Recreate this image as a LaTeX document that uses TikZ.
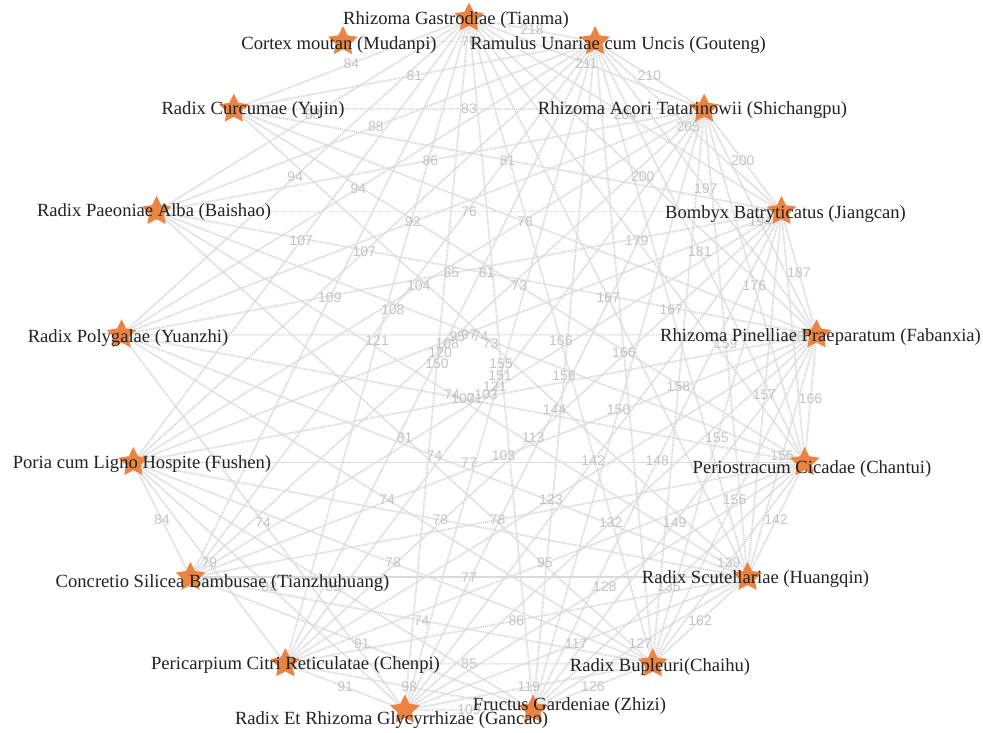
\documentclass[tikz,border=0pt]{standalone}
\usepackage{fontspec}
\setmainfont{Liberation Serif}
\newfontfamily\lblfont{Liberation Sans}
\usetikzlibrary{shapes.geometric}
\definecolor{edgecol}{RGB}{218,218,218}
\definecolor{lblcol}{RGB}{196,196,196}
\definecolor{starcol}{RGB}{235,132,66}
\definecolor{txtcol}{RGB}{34,34,34}
\def\edgelist{0/1/218,1/2/210,2/3/200,3/4/187,4/5/166,5/6/142,6/7/162,7/8/126,8/9/109,9/10/91,11/12/84,
0/2/211,1/3/205,2/4/194,3/5/178,4/6/156,5/7/139,6/8/127,7/9/119,8/10/98,10/12/79,16/1/76,15/0/84,
0/3/204,1/4/197,2/5/176,3/6/157,4/7/156,5/8/135,6/9/117,7/10/85,8/11/91,9/12/82,14/0/88,15/1/81,
0/4/200,1/5/181,2/6/159,3/7/155,4/8/149,5/9/128,6/10/86,7/11/74,8/12/85,9/13/74,13/0/94,14/1/88,15/2/83,
0/5/179,1/6/167,2/7/158,3/8/148,4/9/132,5/10/95,6/11/77,7/12/78,12/0/107,13/1/94,14/2/86,15/3/81,
0/6/167,1/7/166,2/8/150,3/9/142,4/10/123,5/11/78,6/12/78,7/13/74,11/0/109,12/1/107,13/2/92,14/3/76,15/4/78,
0/7/166,1/8/156,2/9/144,3/10/113,4/11/103,5/12/77,6/13/74,7/14/81,10/0/121,11/1/108,12/2/104,13/3/85,14/4/81,15/5/73,
0/8/155,1/9/151,2/10/121,3/11/103,4/12/71,5/13/100,6/14/74,9/0/150,10/1/120,11/2/108,12/3/95,13/4/97,14/5/74,15/6/73}
\begin{document}
\begin{tikzpicture}[x=1pt,y=-1pt,
  link/.style={draw=edgecol,line width=1.8pt,dash pattern=on 1.2pt off 0.8pt},
  wlabel/.style={font=\lblfont\fontsize{14}{14}\selectfont,text=lblcol,inner sep=0pt},
  herb/.style={star,star points=5,star point ratio=2.0,minimum size=31pt,inner sep=0pt,fill=starcol,draw=none},
  herbtext/.style={font=\fontsize{18.6}{20}\selectfont,text=txtcol,inner sep=0pt,anchor=center}]
\fill[white] (0,0) rectangle (983,733);
\useasboundingbox (0,0) rectangle (983,733);
\foreach \i in {0,...,16}{
  \coordinate (n\i) at ({469+349*cos(90-21.17647*\i)},{367-349*sin(90-21.17647*\i)});
}
\foreach \a/\b/\w in \edgelist {\draw[link] (n\a) -- (n\b);}
\foreach \a/\b/\w in \edgelist {\path (n\a) -- node[wlabel]{\w} (n\b);}
\foreach \i in {0,...,16}{\node[herb] (s\i) at (n\i) {};}
\node[herbtext] (t0) at (456,20.5) {Rhizoma Gastrodiae (Tianma)};
\node[herbtext] (t1) at (618,45.5) {Ramulus Unariae cum Uncis (Gouteng)};
\node[herbtext] (t2) at (692.5,110) {Rhizoma Acori Tatarinowii (Shichangpu)};
\node[herbtext] (t3) at (785.5,214.5) {Bombyx Batryticatus (Jiangcan)};
\node[herbtext] (t4) at (820.5,337) {Rhizoma Pinelliae Praeparatum (Fabanxia)};
\node[herbtext] (t5) at (812,469) {Periostracum Cicadae (Chantui)};
\node[herbtext] (t6) at (755.5,579.5) {Radix Scutellariae (Huangqin)};
\node[herbtext] (t7) at (660,667) {Radix Bupleuri(Chaihu)};
\node[herbtext] (t8) at (569.5,706.5) {Fructus Gardeniae (Zhizi)};
\node[herbtext] (t9) at (391.5,720.5) {Radix Et Rhizoma Glycyrrhizae (Gancao)};
\node[herbtext] (t10) at (295.5,665.5) {Pericarpium Citri Reticulatae (Chenpi)};
\node[herbtext] (t11) at (222.5,583) {Concretio Silicea Bambusae (Tianzhuhuang)};
\node[herbtext] (t12) at (142,464.5) {Poria cum Ligno Hospite (Fushen)};
\node[herbtext] (t13) at (128,338) {Radix Polygalae (Yuanzhi)};
\node[herbtext] (t14) at (154,212) {Radix Paeoniae Alba (Baishao)};
\node[herbtext] (t15) at (253,110) {Radix Curcumae (Yujin)};
\node[herbtext] (t16) at (339,45.5) {Cortex moutan (Mudanpi)};
\end{tikzpicture}
\end{document}
